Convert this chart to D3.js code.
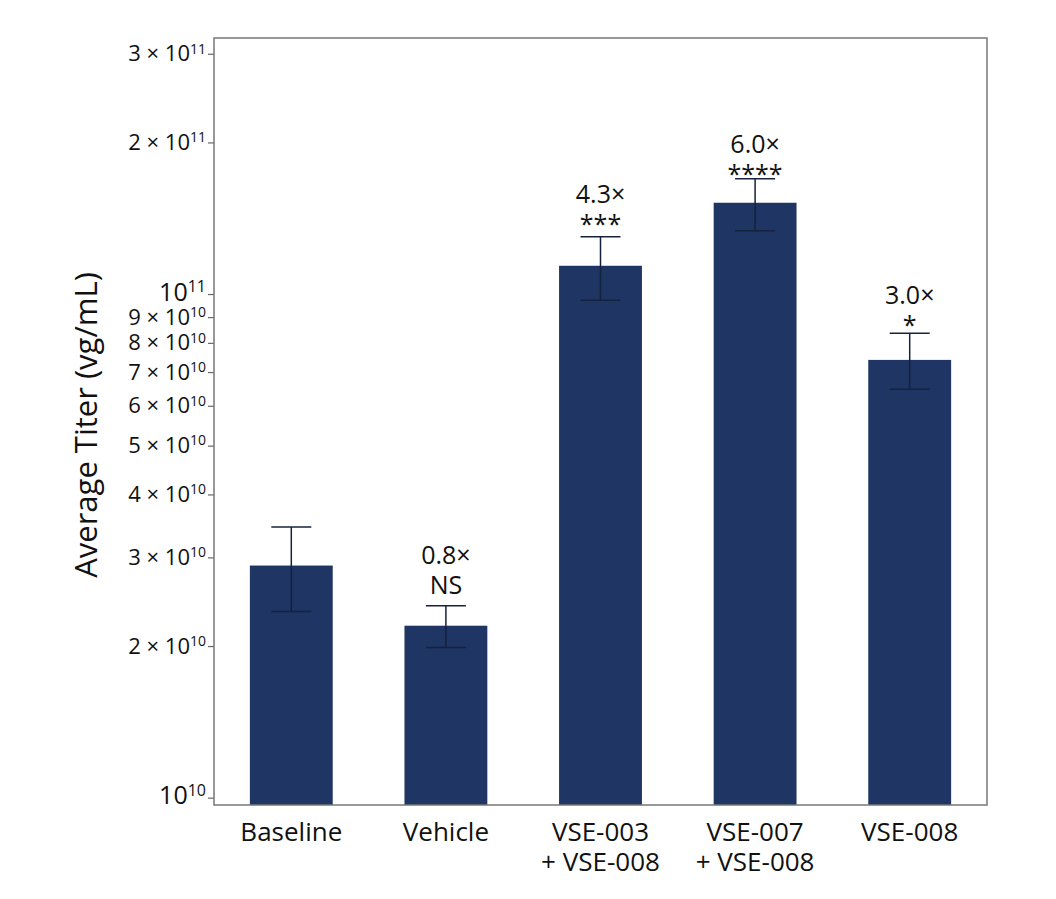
<!DOCTYPE html>
<html>
<head>
<meta charset="utf-8">
<script src="https://cdn.jsdelivr.net/npm/d3@7"></script>
<style>
  body { margin: 0; background: #fff; }
  text { font-family: "Open Sans", "Noto Sans", sans-serif; fill: #111; }
</style>
</head>
<body>
<div id="chart"></div>
<script>
'use strict';
// data
var categories = ['Baseline', 'Vehicle', 'VSE-003\n+ VSE-008', 'VSE-007\n+ VSE-008', 'VSE-008'];
var titers = [2.89e10, 2.195e10, 1.138e11, 1.518e11, 7.40e10];
var errHigh = [3.446e10, 2.406e10, 1.300e11, 1.694e11, 8.356e10];
var errLow = [2.341e10, 1.986e10, 9.72e10, 1.336e11, 6.47e10];
var foldLabels = [null, '0.8×', '4.3×', '6.0×', '3.0×'];
var sigLabels = [null, 'NS', '***', '****', '*'];
var labelAt = [null, 2.534e10, 1.32e11, 1.659e11, 8.32e10];
var yTicks = [1e10, 2e10, 3e10, 4e10, 5e10, 6e10, 7e10, 8e10, 9e10, 1e11, 2e11, 3e11];

var width = 1056,
    height = 899;
var plotLeft = 214, plotRight = 987, plotTop = 38, plotBottom = 805;

var svg = d3.select('#chart').append('svg')
    .attr('width', width)
    .attr('height', height);

var x = d3.scaleBand()
    .domain(categories)
    .range([plotLeft, plotRight])
    .paddingInner(0.464)
    .paddingOuter(0.232);

var y = d3.scaleLog()
    .domain([9.67e9, 3.224e11])
    .range([plotBottom, plotTop]);

// bars
svg.append('g').selectAll('rect')
    .data(titers)
    .enter().append('rect')
    .attr('x', function (d, i) { return x(categories[i]); })
    .attr('y', function (d) { return y(d); })
    .attr('width', x.bandwidth())
    .attr('height', function (d) { return plotBottom - y(d); })
    .attr('fill', '#1f3563');

// error bars
var cap = 20;
var eb = svg.append('g').attr('stroke', '#16223d').attr('stroke-width', 1.5);
titers.forEach(function (d, i) {
    var cx = x(categories[i]) + x.bandwidth() / 2;
    eb.append('line').attr('x1', cx).attr('x2', cx)
        .attr('y1', y(errLow[i])).attr('y2', y(errHigh[i]));
    eb.append('line').attr('x1', cx - cap).attr('x2', cx + cap)
        .attr('y1', y(errHigh[i])).attr('y2', y(errHigh[i]));
    eb.append('line').attr('x1', cx - cap).attr('x2', cx + cap)
        .attr('y1', y(errLow[i])).attr('y2', y(errLow[i]));
});

// annotations
titers.forEach(function (d, i) {
    if (!foldLabels[i]) return;
    var cx = x(categories[i]) + x.bandwidth() / 2;
    var by = y(labelAt[i]);
    svg.append('text').attr('x', cx).attr('y', by - 30)
        .attr('text-anchor', 'middle').style('font-size', '25px')
        .text(foldLabels[i]);
    svg.append('text').attr('x', cx).attr('y', by)
        .attr('text-anchor', 'middle').style('font-size', '25px')
        .text(sigLabels[i]);
});

// y axis
var yAxis = svg.append('g')
    .attr('transform', 'translate(' + plotLeft + ',0)')
    .call(d3.axisLeft(y).tickValues(yTicks).tickSize(6).tickPadding(3).tickFormat(''));
yAxis.select('.domain').remove();
yAxis.selectAll('.tick line').attr('stroke', '#666').attr('stroke-width', 1.2);
yAxis.selectAll('.tick text').each(function (d) {
    var exp = Math.floor(Math.log10(d) + 1e-9);
    var mant = Math.round(d / Math.pow(10, exp));
    var major = mant === 1;
    var t = d3.select(this).attr('dy', major ? '0.25em' : '0.32em').attr('x', -8);
    t.style('font-size', major ? '25px' : '22px').attr('fill', '#111');
    t.append('tspan').text(major ? '10' : mant + ' × 10');
    t.append('tspan').attr('dy', '-0.55em')
        .style('font-size', major ? '16px' : '14px')
        .text(exp);
});

// frame
svg.append('rect')
    .attr('x', plotLeft).attr('y', plotTop)
    .attr('width', plotRight - plotLeft).attr('height', plotBottom - plotTop)
    .attr('fill', 'none').attr('stroke', '#777').attr('stroke-width', 1.5);

// x labels, one text per line
categories.forEach(function (c) {
    var cx = x(c) + x.bandwidth() / 2;
    c.split('\n').forEach(function (line, j) {
        svg.append('text').attr('text-anchor', 'middle')
            .attr('x', cx).attr('y', 841 + j * 30)
            .style('font-size', '26px')
            .text(line);
    });
});

// y title
svg.append('text')
    .attr('transform', 'translate(97,425) rotate(-90)')
    .attr('text-anchor', 'middle')
    .style('font-size', '31px')
    .style('font-weight', 500)
    .text('Average Titer (vg/mL)');
</script>
</body>
</html>
